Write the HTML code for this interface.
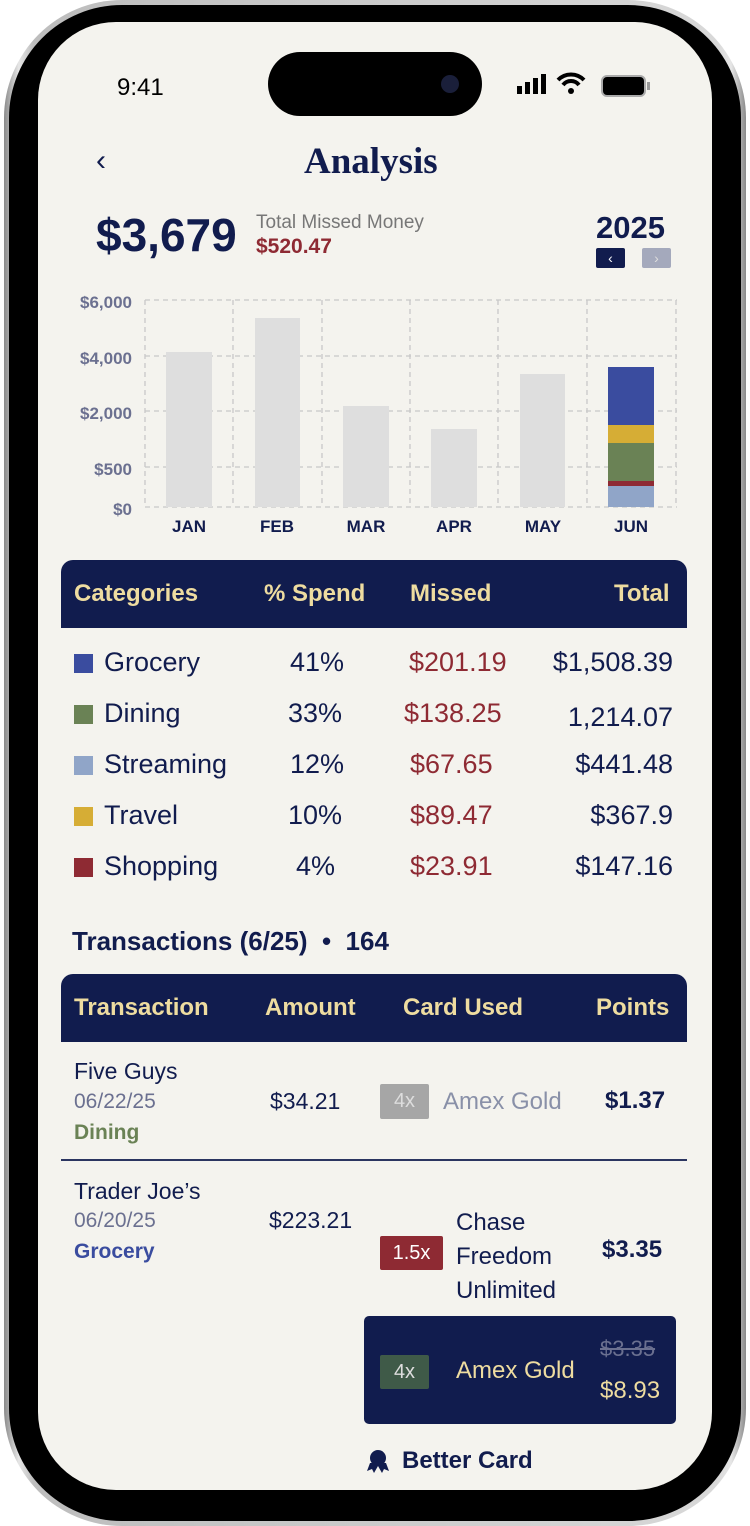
<!DOCTYPE html>
<html><head><meta charset="utf-8"><style>
*{margin:0;padding:0;box-sizing:border-box}
body{width:750px;height:1526px;background:#fff;position:relative;overflow:hidden;font-family:"Liberation Sans",sans-serif;color:#111c4e}
.a{position:absolute;white-space:nowrap}
#frame{position:absolute;left:4px;top:0;width:742px;height:1526px;border-radius:118px;background:linear-gradient(90deg,#8a8a8a,#e6e6e6 2%,#bdbdbd 4%,#d8d8d8 96%,#e6e6e6 98%,#8a8a8a)}
#bezel{position:absolute;left:9px;top:5px;width:732px;height:1516px;border-radius:113px;background:#000}
#screen{position:absolute;left:38px;top:22px;width:674px;height:1468px;border-radius:78px;background:#f4f3ee;overflow:hidden}
.hd{background:#111c4e;color:#eedca0;font-weight:bold;font-size:24px}
.sq{position:absolute;width:19px;height:19px}
.r{color:#8e2a33}
.t{font-size:27px}
</style></head><body>
<div id="frame"></div><div id="bezel"></div>
<div id="screen"></div>
<div class="a" style="left:268px;top:52px;width:214px;height:64px;border-radius:32px;background:#000"></div>
<div class="a" style="left:441px;top:75px;width:18px;height:18px;border-radius:9px;background:#1a1f3a"></div>
<div class="a" style="left:117px;top:74px;font-size:24px;color:#000">9:41</div>
<svg class="a" style="left:515px;top:70px" width="160" height="30">
<rect x="2" y="16" width="5" height="8" fill="#000"/><rect x="10" y="12" width="5" height="12" fill="#000"/><rect x="18" y="8" width="5" height="16" fill="#000"/><rect x="26" y="4" width="5" height="20" fill="#000"/>
<path d="M43 10 a18 18 0 0 1 26 0" stroke="#000" stroke-width="4" fill="none"/><path d="M48 15 a10 10 0 0 1 16 0" stroke="#000" stroke-width="4" fill="none"/><circle cx="56" cy="21" r="3" fill="#000"/>
<rect x="87" y="6" width="43" height="20" rx="5" fill="#000" stroke="#aaa" stroke-width="2"/><rect x="132" y="12" width="3" height="8" fill="#999"/>
</svg>
<div class="a" style="left:96px;top:144px;font-size:30px">&#8249;</div>
<div class="a" style="left:304px;top:140px;font-family:'Liberation Serif',serif;font-weight:bold;font-size:37px">Analysis</div>
<div class="a" style="left:96px;top:208px;font-size:46px;font-weight:bold">$3,679</div>
<div class="a" style="left:256px;top:212px;font-size:19px;color:#777">Total Missed Money</div>
<div class="a r" style="left:256px;top:235px;font-size:21px;font-weight:bold">$520.47</div>
<div class="a" style="left:596px;top:210px;font-size:31px;font-weight:bold">2025</div>
<div class="a" style="left:596px;top:248px;width:29px;height:20px;background:#111c4e;border-radius:2px;color:#fff;font-size:14px;text-align:center;line-height:20px">&#8249;</div>
<div class="a" style="left:642px;top:248px;width:29px;height:20px;background:#a4a9bc;border-radius:2px;color:#ddd;font-size:14px;text-align:center;line-height:20px">&#8250;</div>
<svg class="a" style="left:0;top:280px" width="750" height="270">
<g stroke="#c8c8c8" stroke-dasharray="5,4" stroke-width="1.3" fill="none">
<line x1="145" y1="20" x2="677" y2="20"/><line x1="145" y1="76" x2="677" y2="76"/><line x1="145" y1="131" x2="677" y2="131"/><line x1="145" y1="187" x2="677" y2="187"/><line x1="145" y1="227" x2="677" y2="227"/>
<line x1="145" y1="20" x2="145" y2="227"/><line x1="233" y1="20" x2="233" y2="227"/><line x1="322" y1="20" x2="322" y2="227"/><line x1="410" y1="20" x2="410" y2="227"/><line x1="498" y1="20" x2="498" y2="227"/><line x1="587" y1="20" x2="587" y2="227"/><line x1="676" y1="20" x2="676" y2="227"/>
</g>
<g fill="#dedede"><rect x="166" y="72" width="46" height="155"/><rect x="255" y="38" width="45" height="189"/><rect x="343" y="126" width="46" height="101"/><rect x="431" y="149" width="46" height="78"/><rect x="520" y="94" width="45" height="133"/></g>
<rect x="608" y="87" width="46" height="58" fill="#3a4c9f"/><rect x="608" y="145" width="46" height="18" fill="#d6ad35"/><rect x="608" y="163" width="46" height="38" fill="#6a8255"/><rect x="608" y="201" width="46" height="5" fill="#8e2a33"/><rect x="608" y="206" width="46" height="21" fill="#90a5c8"/>
<g font-family="Liberation Sans" font-weight="bold" font-size="17" fill="#6b7090" text-anchor="end"><text x="132" y="28">$6,000</text><text x="132" y="84">$4,000</text><text x="132" y="139">$2,000</text><text x="132" y="195">$500</text><text x="132" y="235">$0</text></g>
<g font-family="Liberation Sans" font-weight="bold" font-size="17" fill="#111c4e" text-anchor="middle"><text x="189" y="252">JAN</text><text x="277" y="252">FEB</text><text x="366" y="252">MAR</text><text x="454" y="252">APR</text><text x="543" y="252">MAY</text><text x="631" y="252">JUN</text></g>
</svg>
<div class="a hd" style="left:61px;top:560px;width:626px;height:68px;border-radius:12px 12px 0 0"></div>
<div class="a hd" style="left:74px;top:580px">Categories</div>
<div class="a hd" style="left:264px;top:580px">% Spend</div>
<div class="a hd" style="left:410px;top:580px">Missed</div>
<div class="a hd" style="left:614px;top:580px">Total</div>
<div class="sq" style="left:74px;top:654px;background:#3a4c9f"></div>
<div class="sq" style="left:74px;top:705px;background:#6a8255"></div>
<div class="sq" style="left:74px;top:756px;background:#90a5c8"></div>
<div class="sq" style="left:74px;top:807px;background:#d6ad35"></div>
<div class="sq" style="left:74px;top:858px;background:#8e2a33"></div>
<div class="a t" style="left:104px;top:647px">Grocery</div><div class="a t" style="left:290px;top:647px">41%</div><div class="a t r" style="left:409px;top:647px">$201.19</div><div class="a t" style="right:77px;top:647px">$1,508.39</div>
<div class="a t" style="left:104px;top:698px">Dining</div><div class="a t" style="left:288px;top:698px">33%</div><div class="a t r" style="left:404px;top:698px">$138.25</div><div class="a t" style="right:77px;top:702px">1,214.07</div>
<div class="a t" style="left:104px;top:749px">Streaming</div><div class="a t" style="left:290px;top:749px">12%</div><div class="a t r" style="left:410px;top:749px">$67.65</div><div class="a t" style="right:77px;top:749px">$441.48</div>
<div class="a t" style="left:104px;top:800px">Travel</div><div class="a t" style="left:288px;top:800px">10%</div><div class="a t r" style="left:410px;top:800px">$89.47</div><div class="a t" style="right:77px;top:800px">$367.9</div>
<div class="a t" style="left:104px;top:851px">Shopping</div><div class="a t" style="left:296px;top:851px">4%</div><div class="a t r" style="left:410px;top:851px">$23.91</div><div class="a t" style="right:77px;top:851px">$147.16</div>
<div class="a" style="left:72px;top:926px;font-size:26px;font-weight:bold">Transactions (6/25) &nbsp;•&nbsp; 164</div>
<div class="a hd" style="left:61px;top:974px;width:626px;height:68px;border-radius:12px 12px 0 0"></div>
<div class="a hd" style="left:74px;top:994px">Transaction</div>
<div class="a hd" style="left:265px;top:994px">Amount</div>
<div class="a hd" style="left:403px;top:994px">Card Used</div>
<div class="a hd" style="left:596px;top:994px">Points</div>
<div class="a" style="left:74px;top:1058px;font-size:23px">Five Guys</div>
<div class="a" style="left:74px;top:1090px;font-size:21px;color:#6b7090">06/22/25</div>
<div class="a" style="left:74px;top:1121px;font-size:21px;font-weight:bold;color:#6a8255">Dining</div>
<div class="a" style="left:270px;top:1088px;font-size:23px">$34.21</div>
<div class="a" style="left:380px;top:1084px;width:49px;height:35px;background:#a6a6a6;color:#ddd;font-size:20px;text-align:center;line-height:35px;border-radius:2px">4x</div>
<div class="a" style="left:443px;top:1088px;font-size:24px;color:#8990a8">Amex Gold</div>
<div class="a" style="left:605px;top:1087px;font-size:24px;font-weight:bold">$1.37</div>
<div class="a" style="left:61px;top:1159px;width:626px;height:2px;background:#2b3560"></div>
<div class="a" style="left:74px;top:1178px;font-size:23px">Trader Joe’s</div>
<div class="a" style="left:74px;top:1209px;font-size:21px;color:#6b7090">06/20/25</div>
<div class="a" style="left:74px;top:1240px;font-size:21px;font-weight:bold;color:#3a4c9f">Grocery</div>
<div class="a" style="left:269px;top:1207px;font-size:23px">$223.21</div>
<div class="a" style="left:380px;top:1236px;width:63px;height:34px;background:#8e2a33;color:#fff;font-size:20px;text-align:center;line-height:34px;border-radius:2px">1.5x</div>
<div class="a" style="left:456px;top:1206px;font-size:24px;line-height:34px">Chase<br>Freedom<br>Unlimited</div>
<div class="a" style="left:602px;top:1236px;font-size:24px;font-weight:bold">$3.35</div>
<div class="a" style="left:364px;top:1316px;width:312px;height:108px;background:#111c4e;border-radius:5px"></div>
<div class="a" style="left:380px;top:1355px;width:49px;height:34px;background:#3f5a48;color:#ddd;font-size:20px;text-align:center;line-height:34px;border-radius:2px">4x</div>
<div class="a" style="left:456px;top:1357px;font-size:24px;color:#eedca0">Amex Gold</div>
<div class="a" style="left:600px;top:1336px;font-size:22px;color:#6b7090;text-decoration:line-through">$3.35</div>
<div class="a" style="left:600px;top:1377px;font-size:24px;color:#eedca0">$8.93</div>
<svg class="a" style="left:366px;top:1449px" width="24" height="26"><circle cx="12" cy="9" r="8" fill="#111c4e"/><path d="M4 14 L1 22 L6 20 L8 24 L12 17 L16 24 L18 20 L23 22 L20 14Z" fill="#111c4e"/></svg>
<div class="a" style="left:402px;top:1447px;font-size:24px;font-weight:bold">Better Card</div>
</body></html>
